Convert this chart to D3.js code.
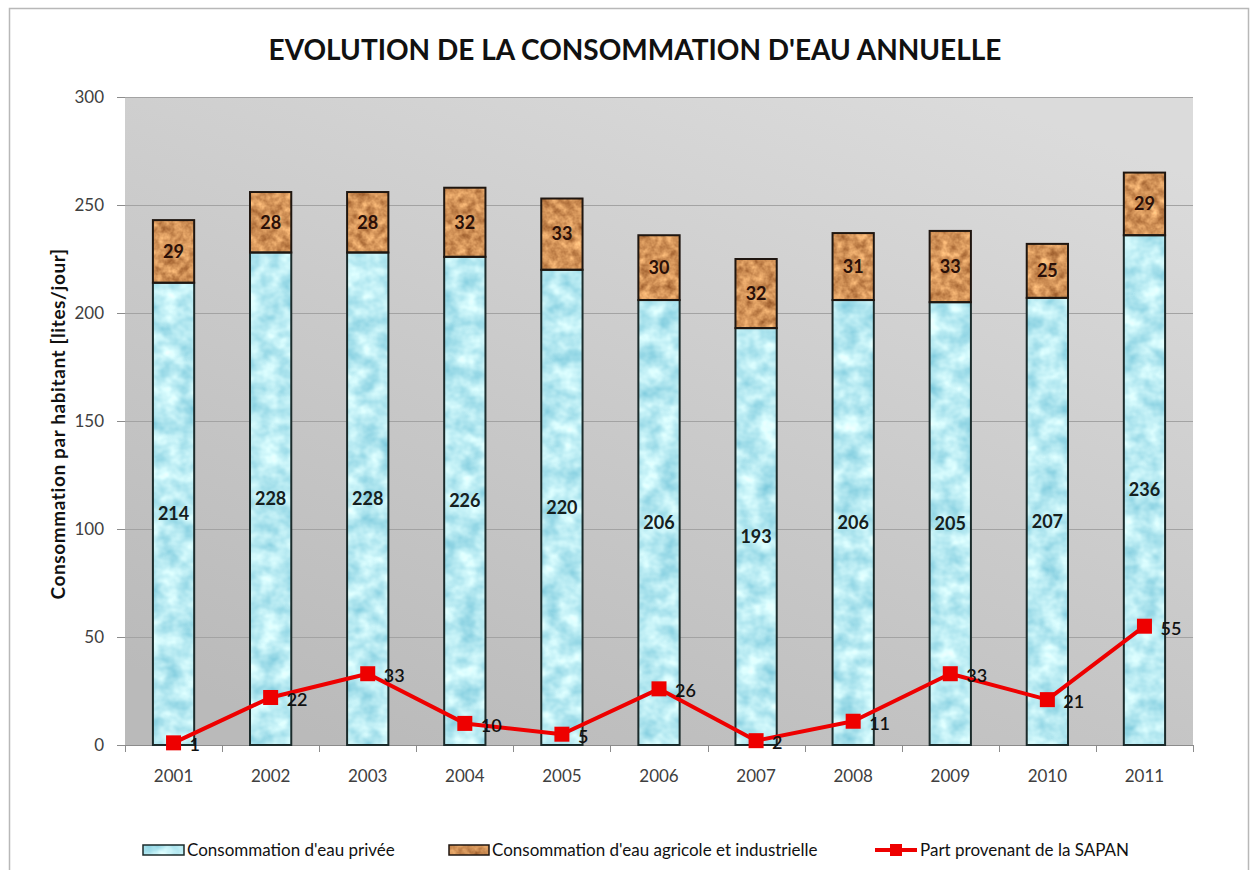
<!DOCTYPE html>
<html>
<head>
<meta charset="utf-8">
<script src="https://cdn.jsdelivr.net/npm/d3@7"></script>
<style>
  html, body { margin: 0; padding: 0; background: #ffffff; }
  svg { display: block; font-family: Lato, "Open Sans", sans-serif; }
</style>
</head>
<body>
<svg id="chart" width="1255" height="870"></svg>
<script>
// ---- data ----
const years = ["2001","2002","2003","2004","2005","2006","2007","2008","2009","2010","2011"];
const privee = [214, 228, 228, 226, 220, 206, 193, 206, 205, 207, 236];
const agricole = [29, 28, 28, 32, 33, 30, 32, 31, 33, 25, 29];
const sapan = [1, 22, 33, 10, 5, 26, 2, 11, 33, 21, 55];
const yTicks = [0, 50, 100, 150, 200, 250, 300];
const title = "EVOLUTION DE LA CONSOMMATION D'EAU ANNUELLE";
const yLabel = "Consommation par habitant [lites/jour]";
const seriesNames = ["Consommation d'eau privée", "Consommation d'eau agricole et industrielle", "Part provenant de la SAPAN"];

// ---- layout ----
const W = 1255, H = 870;
const plot = { left: 125, right: 1193, top: 97, bottom: 745 };

const svg = d3.select("#chart");
const defs = svg.append("defs");

// background gradient
const bg = defs.append("linearGradient").attr("id", "bgGrad")
  .attr("x1", "0.8").attr("y1", "0").attr("x2", "0.2").attr("y2", "1");
bg.append("stop").attr("offset", "0").attr("stop-color", "#dbdbdb");
bg.append("stop").attr("offset", "0.5").attr("stop-color", "#cacaca");
bg.append("stop").attr("offset", "1").attr("stop-color", "#bababa");

// texture filters
function texFilter(id, freq, oct, matrix, seed) {
  const f = defs.append("filter").attr("id", id)
    .attr("x", 0).attr("y", 0).attr("width", 1).attr("height", 1)
    .attr("color-interpolation-filters", "sRGB");
  f.append("feTurbulence").attr("type", "fractalNoise")
    .attr("baseFrequency", freq).attr("numOctaves", oct).attr("seed", seed).attr("result", "n");
  f.append("feColorMatrix").attr("in", "n").attr("type", "matrix").attr("values", matrix).attr("result", "c");
  f.append("feComposite").attr("in", "c").attr("in2", "SourceGraphic").attr("operator", "in");
}
texFilter("waterTex", "0.05 0.06", 3,
  "0.55 0 0 0 0.45  0.3 0 0 0 0.77  0.2 0 0 0 0.85  0 0 0 0 1", 3);
texFilter("corkTex", "0.12", 3,
  "0.55 0 0 0 0.55  0.55 0 0 0 0.3  0.45 0 0 0 0.12  0 0 0 0 1", 7);

// outer frame
svg.append("path")
  .attr("d", `M9.5,${H + 2} V8.5 H1248.5 V${H + 2}`)
  .attr("fill", "none").attr("stroke", "#b8b8b8").attr("stroke-width", 1.5);

// title
svg.append("text")
  .attr("x", 635).attr("y", 60)
  .attr("text-anchor", "middle")
  .attr("font-size", 28).attr("font-weight", "bold").attr("fill", "#111")
  .text(title);

// scales
const x = d3.scaleBand().domain(years).range([plot.left, plot.right])
  .paddingInner(0.575).paddingOuter(0.2875);
const y = d3.scaleLinear().domain([0, 300]).range([plot.bottom, plot.top]);

// plot background
svg.append("rect")
  .attr("x", plot.left).attr("y", plot.top)
  .attr("width", plot.right - plot.left).attr("height", plot.bottom - plot.top)
  .attr("fill", "url(#bgGrad)");

// gridlines
svg.append("g").selectAll("line").data(yTicks.filter(t => t > 0)).join("line")
  .attr("x1", plot.left).attr("x2", plot.right)
  .attr("y1", d => Math.round(y(d)) + 0.5).attr("y2", d => Math.round(y(d)) + 0.5)
  .attr("stroke", "#a3a3a3").attr("stroke-width", 1);

// y axis
const yAxis = svg.append("g").attr("transform", `translate(${plot.left},0)`)
  .call(d3.axisLeft(y).tickValues(yTicks).tickSize(8).tickPadding(13));
yAxis.select(".domain").remove();
yAxis.selectAll(".tick line").attr("stroke", "#8c8c8c");
yAxis.selectAll(".tick text").attr("font-size", 17).attr("fill", "#404040")
  .attr("font-family", "Lato, sans-serif");

// x axis
const xAxis = svg.append("g").attr("transform", `translate(0,${plot.bottom})`)
  .call(d3.axisBottom(x).tickSize(0).tickPadding(25));
xAxis.select(".domain").attr("stroke", "#8c8c8c");
xAxis.selectAll(".tick text").attr("font-size", 17).attr("fill", "#404040")
  .attr("font-family", "Lato, sans-serif");
// boundary tick marks
const bounds = d3.range(years.length + 1).map(i => plot.left + i * (plot.right - plot.left) / years.length);
svg.append("g").selectAll("line").data(bounds).join("line")
  .attr("x1", d => Math.round(d) + 0.5).attr("x2", d => Math.round(d) + 0.5)
  .attr("y1", plot.bottom).attr("y2", plot.bottom + 7)
  .attr("stroke", "#8c8c8c");

// y label
svg.append("text")
  .attr("transform", `translate(65,${(plot.top + plot.bottom) / 2 + 3}) rotate(-90)`)
  .attr("text-anchor", "middle")
  .attr("font-size", 19).attr("font-weight", "bold").attr("fill", "#111")
  .attr("letter-spacing", 0.6)
  .text(yLabel);

// bars
const rows = years.map((yr, i) => ({ yr, p: privee[i], a: agricole[i], s: sapan[i] }));
const bw = x.bandwidth();
const bars = svg.append("g");
bars.selectAll(".bp").data(rows).join("rect").attr("class", "bp")
  .attr("x", d => x(d.yr)).attr("width", bw)
  .attr("y", d => y(d.p)).attr("height", d => y(0) - y(d.p))
  .attr("fill", "#b5e6ef").attr("filter", "url(#waterTex)");
bars.selectAll(".ba").data(rows).join("rect").attr("class", "ba")
  .attr("x", d => x(d.yr)).attr("width", bw)
  .attr("y", d => y(d.p + d.a)).attr("height", d => y(d.p) - y(d.p + d.a))
  .attr("fill", "#c98d58").attr("filter", "url(#corkTex)");
bars.selectAll(".bpo").data(rows).join("rect").attr("class", "bpo")
  .attr("x", d => x(d.yr)).attr("width", bw)
  .attr("y", d => y(d.p)).attr("height", d => y(0) - y(d.p))
  .attr("fill", "none").attr("stroke", "#1b2b2b").attr("stroke-width", 2);
bars.selectAll(".bao").data(rows).join("rect").attr("class", "bao")
  .attr("x", d => x(d.yr)).attr("width", bw)
  .attr("y", d => y(d.p + d.a)).attr("height", d => y(d.p) - y(d.p + d.a))
  .attr("fill", "none").attr("stroke", "#1f1610").attr("stroke-width", 2);

// bar labels
bars.selectAll(".lp").data(rows).join("text").attr("class", "lp")
  .attr("x", d => x(d.yr) + bw / 2).attr("y", d => y(d.p / 2))
  .attr("dy", "0.35em").attr("text-anchor", "middle")
  .attr("font-size", 18).attr("font-weight", "bold").attr("fill", "#152020")
  .text(d => d.p);
bars.selectAll(".la").data(rows).join("text").attr("class", "la")
  .attr("x", d => x(d.yr) + bw / 2).attr("y", d => y(d.p + d.a / 2))
  .attr("dy", "0.35em").attr("text-anchor", "middle")
  .attr("font-size", 18).attr("font-weight", "bold").attr("fill", "#2a1008")
  .text(d => d.a);

// line
const cx = d => x(d.yr) + bw / 2;
svg.append("path").datum(rows)
  .attr("d", d3.line().x(cx).y(d => y(d.s)))
  .attr("fill", "none").attr("stroke", "#ee0000").attr("stroke-width", 4)
  .attr("stroke-linejoin", "round");
svg.append("g").selectAll("rect").data(rows).join("rect")
  .attr("x", d => cx(d) - 7.5).attr("y", d => y(d.s) - 7.5)
  .attr("width", 15).attr("height", 15).attr("fill", "#ee0000");
svg.append("g").selectAll("text").data(rows).join("text")
  .attr("x", d => cx(d) + 16).attr("y", d => y(d.s) + 2)
  .attr("dy", "0.35em")
  .attr("font-size", 18).attr("font-weight", 600).attr("fill", "#111")
  .text(d => d.s);

// legend
const ly = 850;
const leg = svg.append("g");
const legX = [143, 449, 875];
leg.append("rect").attr("x", legX[0]).attr("y", ly - 5).attr("width", 41).attr("height", 10)
  .attr("fill", "#b5e6ef").attr("filter", "url(#waterTex)");
leg.append("rect").attr("x", legX[0]).attr("y", ly - 5).attr("width", 41).attr("height", 10)
  .attr("fill", "none").attr("stroke", "#1b2b2b").attr("stroke-width", 1.5);
leg.append("rect").attr("x", legX[1]).attr("y", ly - 5).attr("width", 40).attr("height", 10)
  .attr("fill", "#c98d58").attr("filter", "url(#corkTex)");
leg.append("rect").attr("x", legX[1]).attr("y", ly - 5).attr("width", 40).attr("height", 10)
  .attr("fill", "none").attr("stroke", "#1f1610").attr("stroke-width", 1.5);
leg.append("line").attr("x1", legX[2]).attr("x2", legX[2] + 42).attr("y1", ly).attr("y2", ly)
  .attr("stroke", "#ee0000").attr("stroke-width", 4);
leg.append("rect").attr("x", legX[2] + 21 - 6).attr("y", ly - 6).attr("width", 12).attr("height", 12)
  .attr("fill", "#ee0000");
const legTextX = [187, 492, 920];
leg.selectAll("text").data(seriesNames).join("text")
  .attr("x", (d, i) => legTextX[i]).attr("y", ly).attr("dy", "0.35em")
  .attr("font-size", 17).attr("fill", "#111")
  .text(d => d);
</script>
</body>
</html>
